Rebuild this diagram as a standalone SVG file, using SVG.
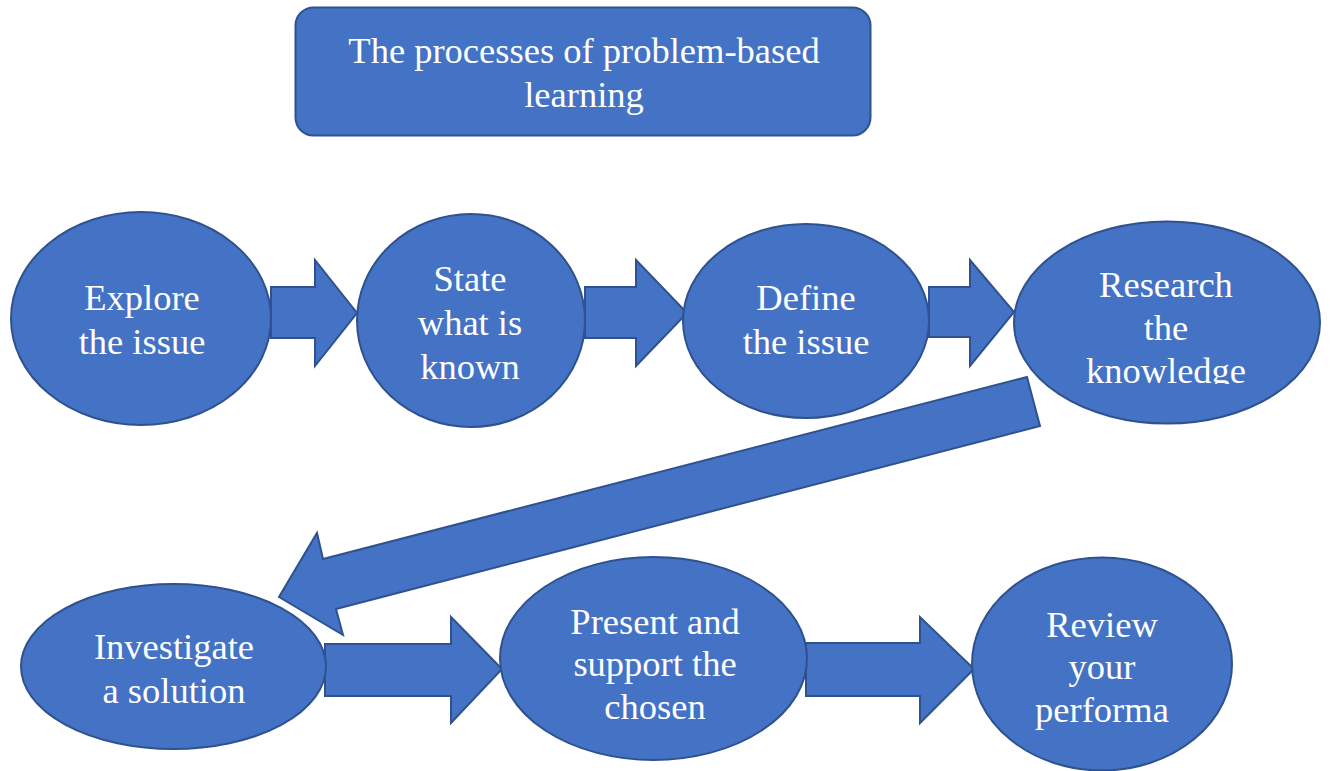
<svg xmlns="http://www.w3.org/2000/svg" width="1330" height="771" viewBox="0 0 1330 771">
  <style>
    .shape { fill: #4472C4; stroke: #2F528F; stroke-width: 2; stroke-linejoin: miter; }
    .lbl { font-family: "Liberation Serif", "Times New Roman", serif; font-size: 36.5px; fill: #FFFFFF; text-anchor: middle; }
  </style>
  <defs>
    <clipPath id="clipResearch">
      <rect x="1000" y="220" width="330" height="164"/>
    </clipPath>
  </defs>
  <rect width="1330" height="771" fill="#FFFFFF"/>

  <g id="title">
    <rect class="shape" x="295.5" y="7.5" width="575" height="128" rx="18" ry="18"/>
    <text class="lbl" x="584" y="63">The processes of problem-based</text>
    <text class="lbl" x="584" y="107">learning</text>
  </g>

  <g id="connectors">
    <polygon class="shape" points="271,287 315,287 315,260 357,313 315,366 315,338 271,338"/>
    <polygon class="shape" points="585,287 636,287 636,260 687,313 636,366 636,338 585,338"/>
    <polygon class="shape" points="929,287 970,287 970,260 1014,312 970,366 970,337 929,337"/>
    <polygon class="shape" points="1027,377 1040,426 336,609 343,635 279,597 317,533 323,559"/>
    <polygon class="shape" points="325,644 451,644 451,617 502,669 451,723 451,696 325,696"/>
    <polygon class="shape" points="806,643 920,643 920,617 974,669 920,723 920,696 806,696"/>
  </g>

  <g id="explore">
    <ellipse class="shape" cx="141" cy="318.5" rx="130" ry="106.5"/>
    <text class="lbl" x="142" y="310">Explore</text>
    <text class="lbl" x="142" y="354">the issue</text>
  </g>

  <g id="state">
    <ellipse class="shape" cx="471" cy="320.5" rx="114" ry="106.5"/>
    <text class="lbl" x="470" y="291">State</text>
    <text class="lbl" x="470" y="335">what is</text>
    <text class="lbl" x="470" y="379">known</text>
  </g>

  <g id="define">
    <ellipse class="shape" cx="806" cy="321" rx="123" ry="97"/>
    <text class="lbl" x="806" y="310">Define</text>
    <text class="lbl" x="806" y="354">the issue</text>
  </g>

  <g id="research">
    <ellipse class="shape" cx="1167" cy="322.5" rx="153" ry="101"/>
    <g clip-path="url(#clipResearch)">
      <text class="lbl" x="1166" y="297">Research</text>
      <text class="lbl" x="1166" y="340">the</text>
      <text class="lbl" x="1166" y="383">knowledge</text>
    </g>
  </g>

  <g id="investigate">
    <ellipse class="shape" cx="173.5" cy="666.5" rx="152.5" ry="82.5"/>
    <text class="lbl" x="174" y="659">Investigate</text>
    <text class="lbl" x="174" y="703">a solution</text>
  </g>

  <g id="present">
    <ellipse class="shape" cx="653.5" cy="658.5" rx="153.5" ry="101.5"/>
    <text class="lbl" x="655" y="634">Present and</text>
    <text class="lbl" x="655" y="676">support the</text>
    <text class="lbl" x="655" y="719">chosen</text>
  </g>

  <g id="review">
    <ellipse class="shape" cx="1102" cy="664" rx="130" ry="106.5"/>
    <text class="lbl" x="1102" y="637">Review</text>
    <text class="lbl" x="1102" y="679">your</text>
    <text class="lbl" x="1102" y="722">performa</text>
  </g>
</svg>
